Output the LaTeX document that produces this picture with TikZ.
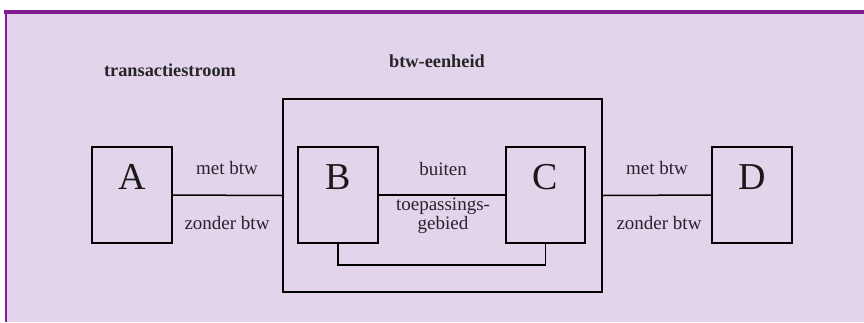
\documentclass[tikz,border=0pt]{standalone}
\usepackage{fontspec}
\setmainfont{Liberation Serif}
\definecolor{bgl}{RGB}{226,212,235}
\definecolor{bord}{RGB}{128,30,145}
\definecolor{txt}{RGB}{40,35,45}
\tikzset{
  box/.style={draw=black, line width=1.5pt, minimum width=80pt, minimum height=96pt, inner sep=0pt},
  letter/.style={font=\fontsize{38}{38}\selectfont, text=black!90, inner sep=0pt},
  lbl/.style={font=\fontsize{19}{18.5}\selectfont, text=txt, inner sep=0pt, align=center},
  ttl/.style={font=\bfseries\fontsize{18.3}{18}\selectfont, text=black!85, inner sep=0pt},
  conn/.style={line width=1.5pt, draw=black}
}
\begin{document}
\begin{tikzpicture}[x=1pt,y=-1pt]
\useasboundingbox (0,0) rectangle (864,322);
\fill[bgl] (5,12) rectangle (864,322);
\draw[bord, line width=3.5pt] (4,12) -- (864,12);
\draw[bord, line width=2pt] (5.5,11) -- (5.5,322);

\node[ttl] (t1) at (170,70) {transactiestroom};
\node[ttl] (t2) at (437,61) {btw-eenheid};

\node[draw=black, line width=1.5pt, minimum width=319pt, minimum height=193pt, inner sep=0pt] (E) at (442.5,195.5) {};

\node[box] (A) at (132,195) {};
\node[box] (B) at (338,195) {};
\node[box, minimum width=79pt] (C) at (545.5,195) {};
\node[box] (D) at (752,195) {};

\node[letter] (lA) at (132,177) {A};
\node[letter] (lB) at (338,177) {B};
\node[letter] (lC) at (545.5,177) {C};
\node[letter] (lD) at (752,177) {D};

\draw[conn] (A.east) -- (E.west);
\draw[conn] (E.east) -- (D.west);
\draw[conn] (B.east) -- (C.west);
\draw[conn] (B.south) -- ++(0,21) -| (C.south);

\node[lbl] (m1) at (227,168) {met btw};
\node[lbl] (z1) at (227,223) {zonder btw};
\node[lbl] (m2) at (657,168) {met btw};
\node[lbl] (z2) at (659,223) {zonder btw};
\node[lbl] (bu) at (443,169) {buiten};
\node[lbl] (tg) at (443,216) {toepassings-\\gebied};
\end{tikzpicture}
\end{document}
